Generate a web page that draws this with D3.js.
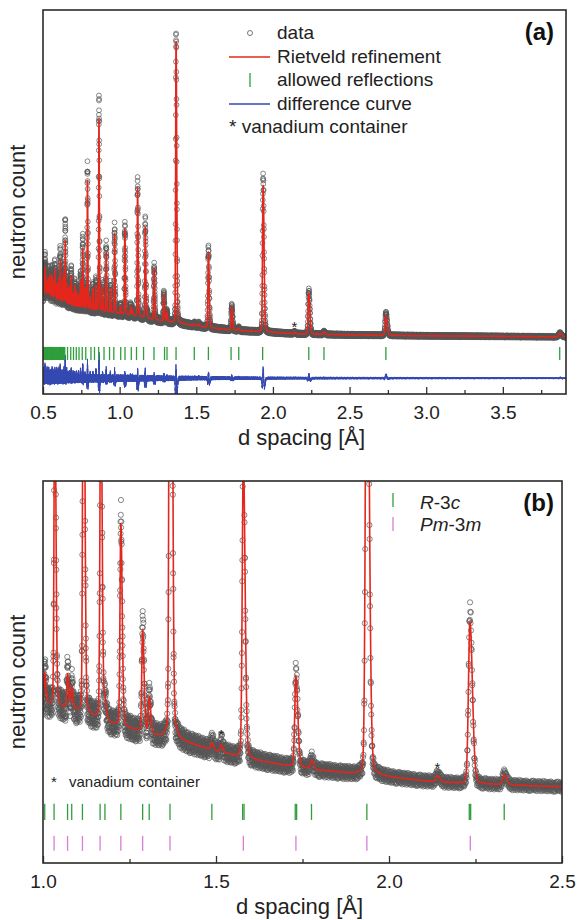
<!DOCTYPE html>
<html>
<head>
<meta charset="utf-8">
<script src="https://cdn.jsdelivr.net/npm/d3@7"></script>
<style>
  body { margin: 0; background: #fff; }
  svg { display: block; font-family: "Liberation Sans", Arial, sans-serif; }
</style>
</head>
<body>
<svg id="chart" width="578" height="920"></svg>
<script>
// background under the pattern (neutron count, arbitrary units)
const bgD     = [0.5, 0.6, 0.7, 0.8, 0.9, 1.0, 1.1, 1.2, 1.3, 1.4, 1.5, 1.6, 1.7, 1.8, 1.9, 2.0, 2.1, 2.2, 2.3, 2.4, 2.5, 3.0, 3.5, 3.92];
const bgCount = [1.62, 1.47, 1.32, 1.22, 1.14, 1.08, 1.01, 0.90, 0.82, 0.75, 0.67, 0.60, 0.55, 0.51, 0.48, 0.45, 0.42, 0.40, 0.39, 0.38, 0.37, 0.34, 0.32, 0.30];

// reflections seen in the pattern: d, observed height above background, refined height
const peakD = [0.503, 0.509, 0.513, 0.517, 0.522, 0.527, 0.532, 0.537, 0.542, 0.547, 0.553, 0.559, 0.565, 0.571, 0.577,
  0.583, 0.590, 0.597, 0.604, 0.612, 0.620, 0.628, 0.636, 0.645, 0.654, 0.664, 0.674, 0.684, 0.696, 0.707, 0.719, 0.732,
  0.745, 0.759, 0.774, 0.790, 0.808, 0.825, 0.845, 0.865, 0.888, 0.912, 0.939, 0.967, 1.005, 1.034, 1.071, 1.083, 1.117,
  1.167, 1.179, 1.225, 1.288, 1.307, 1.368, 1.488, 1.515, 1.579, 1.731, 1.776, 1.936, 2.140, 2.234, 2.333, 2.737, 3.871];
const peakObs = [1.0, 0.6, 1.3, 0.9, 0.5, 0.8, 0.6, 0.9, 0.5, 0.9, 0.6, 1.0, 0.5, 0.7, 1.2,
  0.6, 0.8, 0.7, 1.0, 1.7, 0.5, 0.9, 1.2, 2.7, 0.9, 0.6, 0.7, 1.2, 0.5, 0.8, 0.6, 0.5,
  1.1, 2.3, 0.8, 4.7, 0.5, 0.8, 1.0, 7.0, 0.9, 2.2, 0.9, 2.8, 0.28, 2.95, 0.32, 0.2, 4.45,
  3.2, 0.16, 1.75, 0.92, 0.34, 9.6, 0.07, 0.08, 2.63, 0.8, 0.08, 5.16, 0.06, 1.45, 0.09, 0.75, 0.13];
const peakCalc = [0.8, 0.5, 1.0, 0.7, 0.4, 0.6, 0.5, 0.7, 0.4, 0.8, 0.5, 0.8, 0.4, 0.6, 1.0,
  0.5, 0.6, 0.6, 0.8, 1.4, 0.4, 0.8, 1.0, 2.1, 0.7, 0.5, 0.6, 1.0, 0.4, 0.7, 0.5, 0.4,
  0.9, 2.0, 0.7, 4.3, 0.4, 0.7, 0.8, 6.4, 0.8, 2.0, 0.8, 2.65, 0.25, 2.85, 0.28, 0.18, 4.3,
  3.05, 0.15, 1.7, 0.85, 0.3, 9.4, 0.06, 0.06, 2.53, 0.76, 0.07, 4.9, 0.05, 1.36, 0.08, 0.65, 0.12];

// vanadium container lines marked with *
const vanadiumA = [2.140];
const vanadiumB = [1.515, 2.140];

// allowed reflections, panel (a)
const reflA = [0.501, 0.504, 0.506, 0.509, 0.511, 0.513, 0.516, 0.519, 0.521, 0.524, 0.527, 0.529, 0.532, 0.535, 0.537,
  0.540, 0.542, 0.545, 0.548, 0.551, 0.553, 0.556, 0.559, 0.562, 0.565, 0.568, 0.571, 0.574, 0.577, 0.580, 0.583, 0.587,
  0.590, 0.593, 0.597, 0.600, 0.604, 0.607, 0.611, 0.614, 0.618, 0.622, 0.626, 0.630, 0.634, 0.638,
  0.642, 0.660, 0.681, 0.699, 0.717, 0.735, 0.756, 0.779, 0.813, 0.836, 0.863, 0.898, 0.934, 0.962, 1.007, 1.035,
  1.076, 1.110, 1.156, 1.224, 1.293, 1.309, 1.368, 1.487, 1.579, 1.727, 1.777, 1.933, 2.234, 2.333, 2.737, 3.871];
// panel (b): the two phases
const reflR3c = [1.005, 1.032, 1.071, 1.083, 1.114, 1.165, 1.179, 1.225, 1.288, 1.307, 1.367, 1.488, 1.577, 1.581,
  1.729, 1.733, 1.776, 1.936, 2.232, 2.236, 2.333];
const reflPm3m = [1.032, 1.071, 1.114, 1.165, 1.225, 1.288, 1.367, 1.579, 1.731, 1.936, 2.235];

// scatter of the data about the fit (fraction of local error)
const residual = [0.42, -0.81, 0.13, 0.67, -0.35, -0.92, 0.58, 0.05, -0.47, 0.88, -0.12, 0.31, -0.69, 0.76, -0.28,
  0.94, -0.55, 0.09, -0.83, 0.47, 0.22, -0.64, 0.71, -0.03, -0.39, 0.85, -0.74, 0.18, 0.53, -0.97, 0.36, -0.21,
  0.62, -0.58, 0.01, 0.79, -0.44, -0.16, 0.91, -0.87, 0.27, 0.49, -0.31, -0.66, 0.73, 0.11, -0.52, 0.83, -0.08,
  -0.95, 0.39, 0.64, -0.25, -0.71, 0.56, -0.13, 0.97, -0.42, 0.17, -0.78, 0.33, 0.68, -0.59, 0.04, -0.36, 0.86,
  -0.89, 0.24, 0.45, -0.19, -0.62, 0.77, -0.05, 0.29, -0.93, 0.61, -0.47, 0.14, 0.82, -0.33, -0.76, 0.51, 0.07,
  -0.57, 0.92, -0.22, 0.38, -0.85, 0.66, -0.11, -0.48, 0.74, 0.19, -0.68, 0.55, -0.99, 0.26];

const majorA = [0.5, 1.0, 1.5, 2.0, 2.5, 3.0, 3.5];
const minorA = [0.75, 1.25, 1.75, 2.25, 2.75, 3.25, 3.75];
const majorB = [1.0, 1.5, 2.0, 2.5];
const minorB = [1.25, 1.75, 2.25];

const FONT = '"Liberation Sans", Arial, sans-serif';
const RED = '#e4261c', GREEN = '#2f9e3c', MAGENTA = '#d77fd6', BLUE = '#3348b0';

const svg = d3.select('#chart');

// background curve between the read anchors
const bg = d3.scaleLinear().domain(bgD).range(bgCount).clamp(true);

// TOF peak: slightly asymmetric pseudo-Voigt, width grows with d
// (measured peaks come out a bit sharper than the refined ones)
function profile(d, amps, wScale) {
  let s = bg(d);
  for (let k = 0; k < peakD.length; k++) {
    const dx = d - peakD[k];
    const hw = (dx < 0 ? 0.8 : 1.3) * 0.0058 * wScale * peakD[k] / 2;
    const t = dx / hw;
    s += amps[k] * (0.86 * Math.exp(-Math.LN2 * t * t) + 0.14 / (1 + t * t));
  }
  return s;
}

// data bins, constant dd/d
const pts = [];
for (let i = 0, d = 0.5; d <= 3.92; i++, d *= 1.0003) {
  const calc = profile(d, peakCalc, 1);
  const o = profile(d, peakObs, 0.9);
  const obs = o + residual[i % residual.length] * 0.12 * Math.sqrt(bg(d) * o);
  pts.push({ d, calc, obs, diff: obs - calc });
}

function drawPanel(o) {
  const x = d3.scaleLinear().domain(o.xDomain).range([o.left, o.right]);
  const y = d3.scaleLinear().domain(o.yDomain).range([o.bottom, o.top]);
  const g = svg.append('g');

  g.append('clipPath').attr('id', 'clip-' + o.id)
    .append('rect')
    .attr('x', o.left).attr('y', o.top)
    .attr('width', o.right - o.left).attr('height', o.bottom - o.top);

  const plot = g.append('g').attr('clip-path', `url(#clip-${o.id})`);
  const rows = pts.filter(p => p.d >= o.xDomain[0] - 0.01 && p.d <= o.xDomain[1] + 0.01);

  // data circles
  plot.append('g')
    .selectAll('circle')
    .data(rows)
    .join('circle')
    .attr('cx', p => x(p.d))
    .attr('cy', p => y(p.obs))
    .attr('r', o.r)
    .attr('fill', 'none')
    .attr('stroke', '#555')
    .attr('stroke-width', 0.7);

  // refinement
  plot.append('path')
    .datum(rows)
    .attr('d', d3.line().x(p => x(p.d)).y(p => y(p.calc)))
    .attr('fill', 'none')
    .attr('stroke', RED)
    .attr('stroke-width', 1.6);

  // difference curve
  if (o.diffBase !== undefined) {
    plot.append('path')
      .datum(rows)
      .attr('d', d3.line().x(p => x(p.d)).y(p => y(o.diffBase + p.diff)))
      .attr('fill', 'none')
      .attr('stroke', BLUE)
      .attr('stroke-width', 1);
  }

  // reflection markers
  o.refl.forEach(r => {
    plot.append('g')
      .selectAll('line')
      .data(r.values)
      .join('line')
      .attr('x1', v => x(v)).attr('x2', v => x(v))
      .attr('y1', y(r.y0)).attr('y2', y(r.y1))
      .attr('stroke', r.color)
      .attr('stroke-width', 1.3);
  });

  // vanadium asterisks
  g.append('g')
    .selectAll('text')
    .data(o.vanadium)
    .join('text')
    .attr('x', v => x(v))
    .attr('y', v => y(profile(v, peakObs, 0.9)) + o.starDy)
    .attr('text-anchor', 'middle')
    .attr('font-size', 15)
    .attr('fill', '#222')
    .text('*');

  // axes, ticks inward
  const ax = g.append('g')
    .attr('transform', `translate(0,${o.bottom})`)
    .call(d3.axisBottom(x).tickValues(o.major).tickFormat(d3.format('.1f'))
      .tickSize(-7).tickSizeOuter(0).tickPadding(12));
  ax.select('.domain').remove();
  ax.attr('font-size', 19).attr('font-family', FONT);
  ax.selectAll('text').attr('fill', '#222');
  ax.selectAll('line').attr('stroke', '#333').attr('stroke-width', 1.3);

  const axm = g.append('g')
    .attr('transform', `translate(0,${o.bottom})`)
    .call(d3.axisBottom(x).tickValues(o.minor).tickFormat('').tickSize(-4).tickSizeOuter(0));
  axm.select('.domain').remove();
  axm.selectAll('line').attr('stroke', '#333').attr('stroke-width', 1.3);

  // frame
  g.append('rect')
    .attr('x', o.left).attr('y', o.top)
    .attr('width', o.right - o.left).attr('height', o.bottom - o.top)
    .attr('fill', 'none').attr('stroke', '#2a2a2a').attr('stroke-width', 1.6);

  // axis titles
  g.append('text')
    .attr('x', (o.left + o.right) / 2 - 3)
    .attr('y', o.bottom + 51)
    .attr('text-anchor', 'middle')
    .attr('font-size', 22)
    .attr('fill', '#222')
    .text('d spacing [Å]');

  g.append('text')
    .attr('transform', `translate(25,${(o.top + o.bottom) / 2 + 10}) rotate(-90)`)
    .attr('text-anchor', 'middle')
    .attr('font-size', 22)
    .attr('fill', '#222')
    .text('neutron count');

  g.append('text')
    .attr('x', 554).attr('y', o.top + 30)
    .attr('text-anchor', 'end')
    .attr('font-size', 24)
    .attr('font-weight', 'bold')
    .attr('fill', '#111')
    .text(o.label);

  return { x, y, g };
}

// ---- panel (a)
const A = drawPanel({
  id: 'a', label: '(a)',
  left: 43, right: 566, top: 10, bottom: 394,
  xDomain: [0.5, 3.912], yDomain: [-1.6, 11.2],
  major: majorA, minor: minorA, r: 2.4,
  diffBase: -1.07,
  refl: [{ values: reflA, y0: -0.03, y1: -0.47, color: GREEN }],
  vanadium: vanadiumA, starDy: 0
});

const legA = A.g.append('g').attr('font-size', 19).attr('fill', '#222');
legA.append('circle').attr('cx', 250).attr('cy', 33).attr('r', 2.5)
  .attr('fill', 'none').attr('stroke', '#555').attr('stroke-width', 0.8);
legA.append('line').attr('x1', 229).attr('x2', 270).attr('y1', 57).attr('y2', 57)
  .attr('stroke', RED).attr('stroke-width', 1.6);
legA.append('line').attr('x1', 250).attr('x2', 250).attr('y1', 73).attr('y2', 87)
  .attr('stroke', GREEN).attr('stroke-width', 1.3);
legA.append('line').attr('x1', 229).attr('x2', 270).attr('y1', 104).attr('y2', 104)
  .attr('stroke', BLUE).attr('stroke-width', 1.6);
[['data', 39], ['Rietveld refinement', 63], ['allowed reflections', 86], ['difference curve', 110]]
  .forEach(([t, yy]) => legA.append('text').attr('x', 277).attr('y', yy).text(t));
legA.append('text').attr('x', 229).attr('y', 133).text('* vanadium container');

// ---- panel (b)
const B = drawPanel({
  id: 'b', label: '(b)',
  left: 43, right: 562, top: 481, bottom: 863,
  xDomain: [1.0, 2.5], yDomain: [-0.27, 2.94],
  major: majorB, minor: minorB, r: 2.6,
  refl: [
    { values: reflR3c, y0: 0.227, y1: 0.092, color: GREEN },
    { values: reflPm3m, y0: -0.042, y1: -0.168, color: MAGENTA }
  ],
  vanadium: vanadiumB, starDy: -2
});

const legB = B.g.append('g').attr('font-size', 19).attr('fill', '#222');
legB.append('line').attr('x1', 393).attr('x2', 393).attr('y1', 493).attr('y2', 507)
  .attr('stroke', GREEN).attr('stroke-width', 1.3);
legB.append('line').attr('x1', 393).attr('x2', 393).attr('y1', 517).attr('y2', 531)
  .attr('stroke', MAGENTA).attr('stroke-width', 1.3);
const t1 = legB.append('text').attr('x', 420).attr('y', 509);
t1.append('tspan').attr('font-style', 'italic').text('R');
t1.append('tspan').text('-3');
t1.append('tspan').attr('font-style', 'italic').text('c');
const t2 = legB.append('text').attr('x', 420).attr('y', 531);
t2.append('tspan').attr('font-style', 'italic').text('Pm');
t2.append('tspan').text('-3');
t2.append('tspan').attr('font-style', 'italic').text('m');

legB.append('text').attr('x', 51).attr('y', 787).attr('font-size', 15).text('*');
legB.append('text').attr('x', 69).attr('y', 787).attr('font-size', 15).text('vanadium container');
</script>
</body>
</html>
